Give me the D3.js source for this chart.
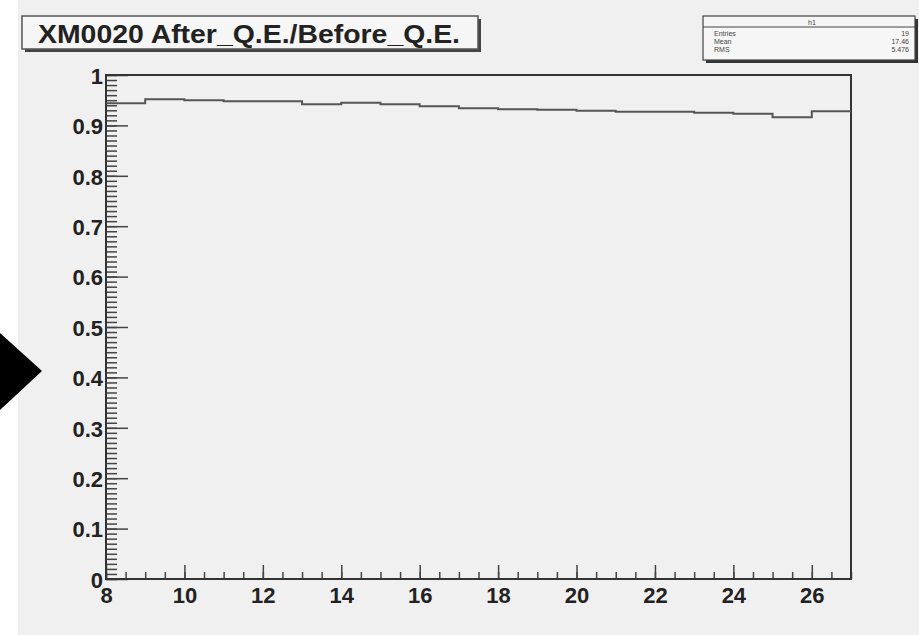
<!DOCTYPE html>
<html>
<head>
<meta charset="utf-8">
<script src="https://cdn.jsdelivr.net/npm/d3@7"></script>
<style>
  body { margin: 0; background: #ffffff; }
  svg { display: block; }
  .tick text { font-family: "Liberation Sans", Arial, sans-serif; font-weight: bold; fill: #222; }
</style>
</head>
<body>
<svg id="chart"></svg>
<script>
// histogram bins (low edges) and contents
var binLow = [8, 9, 10, 11, 12, 13, 14, 15, 16, 17, 18, 19, 20, 21, 22, 23, 24, 25, 26]
var binValue = [0.944, 0.952, 0.950, 0.948, 0.948, 0.942, 0.945, 0.942, 0.938, 0.934,
                0.932, 0.931, 0.929, 0.927, 0.927, 0.925, 0.923, 0.916, 0.928]
var xTicks = [8, 10, 12, 14, 16, 18, 20, 22, 24, 26]
var yTicks = [0, 0.1, 0.2, 0.3, 0.4, 0.5, 0.6, 0.7, 0.8, 0.9, 1]
var titleText = "XM0020 After_Q.E./Before_Q.E."
var statNames = ["Entries", "Mean", "RMS"]
var statValues = ["19", "17.46", "5.476"]

var W = 919, H = 635
var margin = { top: 75, right: 68, bottom: 56, left: 106 },
    width = W - margin.left - margin.right,
    height = H - margin.top - margin.bottom;

var svg = d3.select("#chart").attr("width", W).attr("height", H)

// page background
svg.append("rect").attr("x", 0).attr("y", 0).attr("width", W).attr("height", H).attr("fill", "#ffffff")
svg.append("rect").attr("x", 18).attr("y", 0).attr("width", W - 18).attr("height", H).attr("fill", "#f0f0f0")

// black pointer on the left
svg.append("path")
    .attr("d", "M0,333 L42,371 L0,410 Z")
    .attr("fill", "#000")

var x = d3.scaleLinear().domain([8, 27]).range([0, width])
var y = d3.scaleLinear().domain([0, 1]).range([height, 0])

var g = svg.append("g")
    .attr("transform", "translate(" + margin.left + "," + margin.top + ")")

// frame
g.append("rect")
    .attr("width", width).attr("height", height)
    .attr("fill", "#f0f0f0")
    .attr("stroke", "#333").attr("stroke-width", 2)

// minor ticks y
g.append("g")
    .call(d3.axisLeft(y).tickValues(d3.range(0, 101).map(d => d / 100))
        .tickSize(-11).tickFormat(""))
    .call(a => a.select(".domain").remove())
    .selectAll("line").attr("stroke", "#444").attr("stroke-width", 1.5)

// major ticks y
var yAxis = g.append("g")
    .call(d3.axisLeft(y).tickValues(yTicks).tickSize(-22).tickPadding(3)
        .tickFormat(d => d3.format("")(+d.toFixed(1))))
yAxis.select(".domain").remove()
yAxis.selectAll("line").attr("stroke", "#444").attr("stroke-width", 1.5)
yAxis.selectAll("text").style("font-size", "22px").attr("dy", "0.38em")

// minor ticks x
g.append("g")
    .attr("transform", "translate(0," + height + ")")
    .call(d3.axisBottom(x).tickValues(d3.range(8, 27.01, 0.5)).tickSize(-7).tickFormat(""))
    .call(a => a.select(".domain").remove())
    .selectAll("line").attr("stroke", "#444").attr("stroke-width", 1.5)

// major ticks x
var xAxis = g.append("g")
    .attr("transform", "translate(0," + height + ")")
    .call(d3.axisBottom(x).tickValues(xTicks).tickSize(-14).tickPadding(8).tickFormat(d3.format("d")))
xAxis.select(".domain").remove()
xAxis.selectAll("line").attr("stroke", "#444").attr("stroke-width", 1.5)
xAxis.selectAll("text").style("font-size", "22px")

// redraw frame border on top
g.append("rect")
    .attr("width", width).attr("height", height)
    .attr("fill", "none")
    .attr("stroke", "#333").attr("stroke-width", 2)

// histogram step line
var pts = binLow.map((b, i) => [b, binValue[i]])
pts.push([27, binValue[binValue.length - 1]])
var line = d3.line()
    .x(d => x(d[0]))
    .y(d => y(d[1]))
    .curve(d3.curveStepAfter)
g.append("path")
    .datum(pts)
    .attr("d", line)
    .attr("fill", "none")
    .attr("stroke", "#555")
    .attr("stroke-width", 2)

// title box
var tb = svg.append("g")
tb.append("rect").attr("x", 25).attr("y", 19).attr("width", 456).attr("height", 33).attr("fill", "#444")
tb.append("rect").attr("x", 22).attr("y", 16).attr("width", 456).attr("height", 33)
    .attr("fill", "#f6f6f6").attr("stroke", "#555").attr("stroke-width", 1.5)
tb.append("text")
    .attr("x", 38).attr("y", 43)
    .attr("textLength", 422)
    .attr("lengthAdjust", "spacingAndGlyphs")
    .style("font-family", "'Liberation Sans', Arial, sans-serif")
    .style("font-weight", "bold")
    .style("font-size", "26px")
    .attr("fill", "#222")
    .text(titleText)

// stats box
var sb = svg.append("g")
sb.append("rect").attr("x", 706).attr("y", 19).attr("width", 212).attr("height", 44).attr("fill", "#333")
sb.append("rect").attr("x", 703).attr("y", 16).attr("width", 212).attr("height", 44)
    .attr("fill", "#f6f6f6").attr("stroke", "#444").attr("stroke-width", 1.2)
sb.append("line").attr("x1", 703).attr("x2", 915).attr("y1", 27).attr("y2", 27)
    .attr("stroke", "#444").attr("stroke-width", 1)
sb.append("text").attr("x", 812).attr("y", 25).attr("text-anchor", "middle")
    .style("font-family", "'Liberation Sans', Arial, sans-serif").style("font-size", "7px")
    .attr("fill", "#444").text("h1")
statNames.forEach((n, i) => {
    sb.append("text").attr("x", 714).attr("y", 36 + i * 8)
        .style("font-family", "'Liberation Sans', Arial, sans-serif").style("font-size", "7px")
        .attr("fill", "#444").text(n)
    sb.append("text").attr("x", 909).attr("y", 36 + i * 8).attr("text-anchor", "end")
        .style("font-family", "'Liberation Sans', Arial, sans-serif").style("font-size", "7px")
        .attr("fill", "#444").text(statValues[i])
})
</script>
</body>
</html>
